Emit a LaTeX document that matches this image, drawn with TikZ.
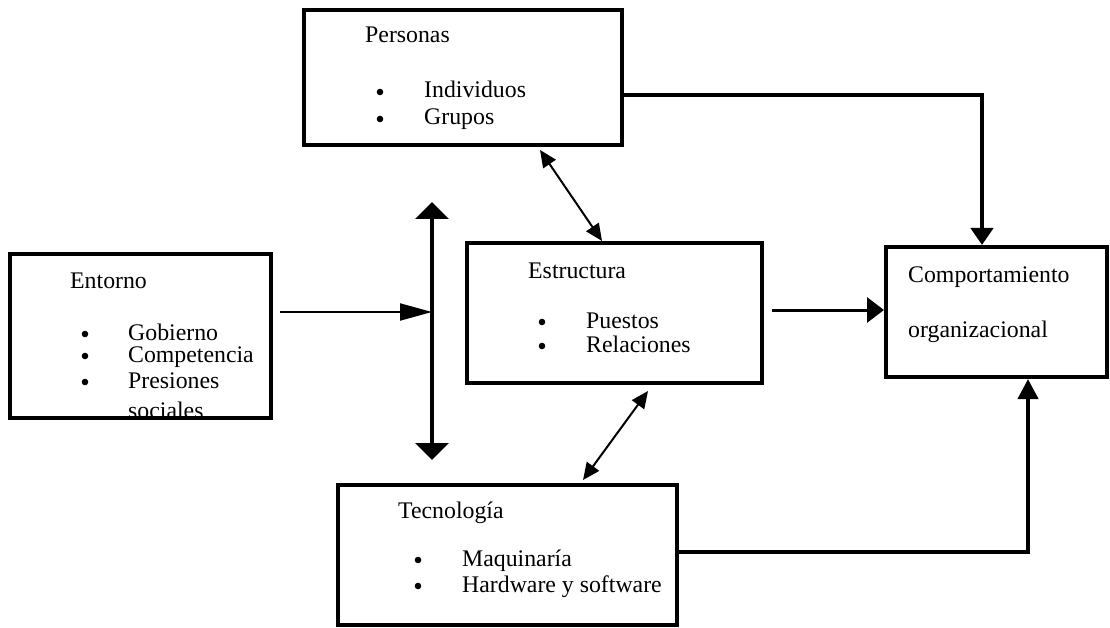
\documentclass[tikz,border=0pt]{standalone}
\usepackage{fontspec}
\setmainfont{Liberation Serif}
\usetikzlibrary{arrows.meta}

\begin{document}
\begin{tikzpicture}[x=1pt, y=-1pt,
  caja/.style={draw, line width=4pt, inner sep=0pt},
  texto/.style={anchor=base west, inner sep=0pt, font=\fontsize{23.8pt}{28pt}\selectfont},
  fina/.style={line width=2pt},
  gruesa/.style={line width=4pt}]

  \useasboundingbox (0,0) rectangle (1110,628);

  % texts
  \def\rbul{3.3pt}  % bullet radius
  \node[texto] (tPer) at (365,43) {Personas};
  \foreach \t/\yy [count=\i] in {Individuos/98, Grupos/125} {
    \fill (380,\yy-6) circle (\rbul);
    \node[texto] (per\i) at (424,\yy) {\t};
  }
  \node[texto] (tEnt) at (70,288) {Entorno};
  \foreach \t/\yy [count=\i] in {Gobierno/340, Competencia/362, Presiones/388} {
    \fill (85,\yy-6) circle (\rbul);
    \node[texto] (ent\i) at (128,\yy) {\t};
  }
  \node[texto] (ent4) at (128,418) {sociales};
  \node[texto] (tEst) at (528,278) {Estructura};
  \foreach \t/\yy [count=\i] in {Puestos/328, Relaciones/352} {
    \fill (542,\yy-6) circle (\rbul);
    \node[texto] (est\i) at (586,\yy) {\t};
  }
  \node[texto] (tCom1) at (908,282) {Comportamiento};
  \node[texto] (tCom2) at (908,337) {organizacional};
  \node[texto] (tTec) at (398,518) {Tecnología};
  \foreach \t/\yy [count=\i] in {Maquinaría/566, Hardware y software/592} {
    \fill (418,\yy-6) circle (\rbul);
    \node[texto] (tec\i) at (462,\yy) {\t};
  }

  % boxes
  \node[caja, minimum width=318pt, minimum height=135pt] (personas) at (463,77.5) {};
  \node[caja, minimum width=261pt, minimum height=164pt] (entorno) at (140.5,336) {};
  \node[caja, minimum width=295pt, minimum height=140pt] (estructura) at (614.5,313) {};
  \node[caja, minimum width=221pt, minimum height=130pt] (comport) at (996.5,312) {};
  \node[caja, minimum width=339pt, minimum height=140pt] (tecnologia) at (507.5,555) {};

  % vertical double arrow
  \coordinate (ejeArr) at (432,202);
  \coordinate (ejeAba) at (432,460);
  \draw[gruesa, {Triangle[length=17pt,width=33pt]}-{Triangle[length=17pt,width=33pt]}] (ejeArr) -- (ejeAba);

  % entorno
  \coordinate (entSal) at ([shift={(7,-24)}]entorno.east);
  \draw[fina, -{Triangle[length=32pt,width=17pt]}] (entSal) -- (entSal -| ejeArr);

  % personas <-> estructura <-> tecnologia
  \draw[fina, {Triangle[length=17pt,width=15pt]}-{Triangle[length=17pt,width=15pt]}]
    ([shift={(77,3)}]personas.south) -- ([shift={(-12.5,0)}]estructura.north);
  \draw[fina, {Triangle[length=17pt,width=15pt]}-{Triangle[length=17pt,width=15pt]}]
    ([shift={(33.5,6)}]estructura.south) -- ([shift={(75.5,-3)}]tecnologia.north);

  % to comportamiento
  \coordinate (estSal) at ([shift={(8,-3)}]estructura.east);
  \draw[line width=3pt, -{Triangle[length=17pt,width=25pt]}] (estSal) -- (estSal -| comport.west);
  \coordinate (perSal) at ([shift={(0,17.5)}]personas.east);
  \draw[line width=4.5pt, -{Triangle[length=17pt,width=22pt]}] (perSal) -| ([shift={(-14.5,0)}]comport.north);
  \coordinate (tecSal) at ([shift={(0,-3)}]tecnologia.east);
  \draw[gruesa, -{Triangle[length=20pt,width=20pt]}] (tecSal) -| ([shift={(31.5,0)}]comport.south);

\end{tikzpicture}
\end{document}
